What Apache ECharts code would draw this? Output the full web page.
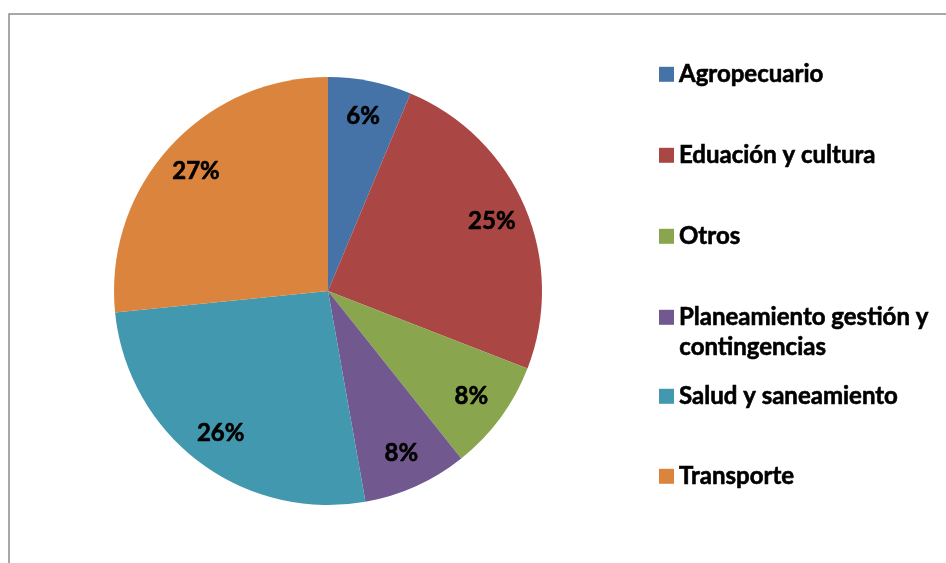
<!DOCTYPE html>
<html>
<head>
<meta charset="utf-8">
<script src="https://cdn.jsdelivr.net/npm/echarts@6/dist/echarts.min.js"></script>
<style>
  html, body { margin: 0; padding: 0; background: #fff; }
  #chart { width: 946px; height: 563px; }
</style>
</head>
<body>
<div id="chart"></div>
<script>
const categories = [
  "Agropecuario",
  "Eduación y cultura",
  "Otros",
  "Planeamiento gestión y contingencias",
  "Salud y saneamiento",
  "Transporte"
];
const shares = [6.3, 24.6, 8.4, 7.9, 26.2, 26.6];
const colors = ["#4572a7", "#aa4643", "#89a54e", "#71588f", "#4198af", "#db843d"];

// legend rows (vertical centre of the first text line)
const legendRows = [74, 155, 236, 317, 396, 476];

const FONT = "Lato";
const pieData = categories.map((name, i) => ({ name, value: shares[i] }));

const boldText = {
  fontFamily: FONT,
  fontWeight: "bold",
  fontSize: 24,
  color: "#000",
  textBorderColor: "#000",
  textBorderWidth: 0.6
};

const legends = categories.map((name, i) => ({
  left: 659,
  top: legendRows[i] - 12,
  padding: 0,
  orient: "vertical",
  itemWidth: 15,
  itemHeight: 15,
  icon: "rect",
  selectedMode: false,
  data: [name],
  // long name wraps: second line is drawn as a graphic text below
  formatter: n => n.startsWith("Planeamiento") ? "Planeamiento gestión y" : n,
  textStyle: Object.assign({ lineHeight: 24 }, boldText)
}));

const chart = echarts.init(document.getElementById("chart"));
chart.setOption({
  animation: false,
  color: colors,
  graphic: [
    {
      type: "rect",
      shape: { x: 9, y: 14, width: 1200, height: 1000 },
      style: { fill: "none", stroke: "#8c8c8c", lineWidth: 1.5 },
      silent: true
    },
    {
      type: "text",
      left: 679,
      top: legendRows[3] + 30 - 12,
      style: {
        text: "contingencias",
        fill: "#000",
        lineHeight: 24,
        font: "bold 24px " + FONT,
        stroke: "#000",
        lineWidth: 0.6
      },
      silent: true
    }
  ],
  legend: legends,
  series: [
    {
      type: "pie",
      center: [328, 291],
      radius: 214,
      startAngle: 90,
      clockwise: true,
      label: { show: false },
      labelLine: { show: false },
      emphasis: { disabled: true },
      data: pieData
    },
    {
      // transparent ring that carries the percentage labels
      type: "pie",
      center: [328, 291],
      radius: [136, 214],
      startAngle: 90,
      clockwise: true,
      silent: true,
      itemStyle: { color: "rgba(0,0,0,0)" },
      label: Object.assign({
        show: true,
        position: "inside",
        formatter: p => Math.round(p.percent) + "%"
      }, boldText),
      labelLine: { show: false },
      emphasis: { disabled: true },
      data: pieData
    }
  ]
});
</script>
</body>
</html>
